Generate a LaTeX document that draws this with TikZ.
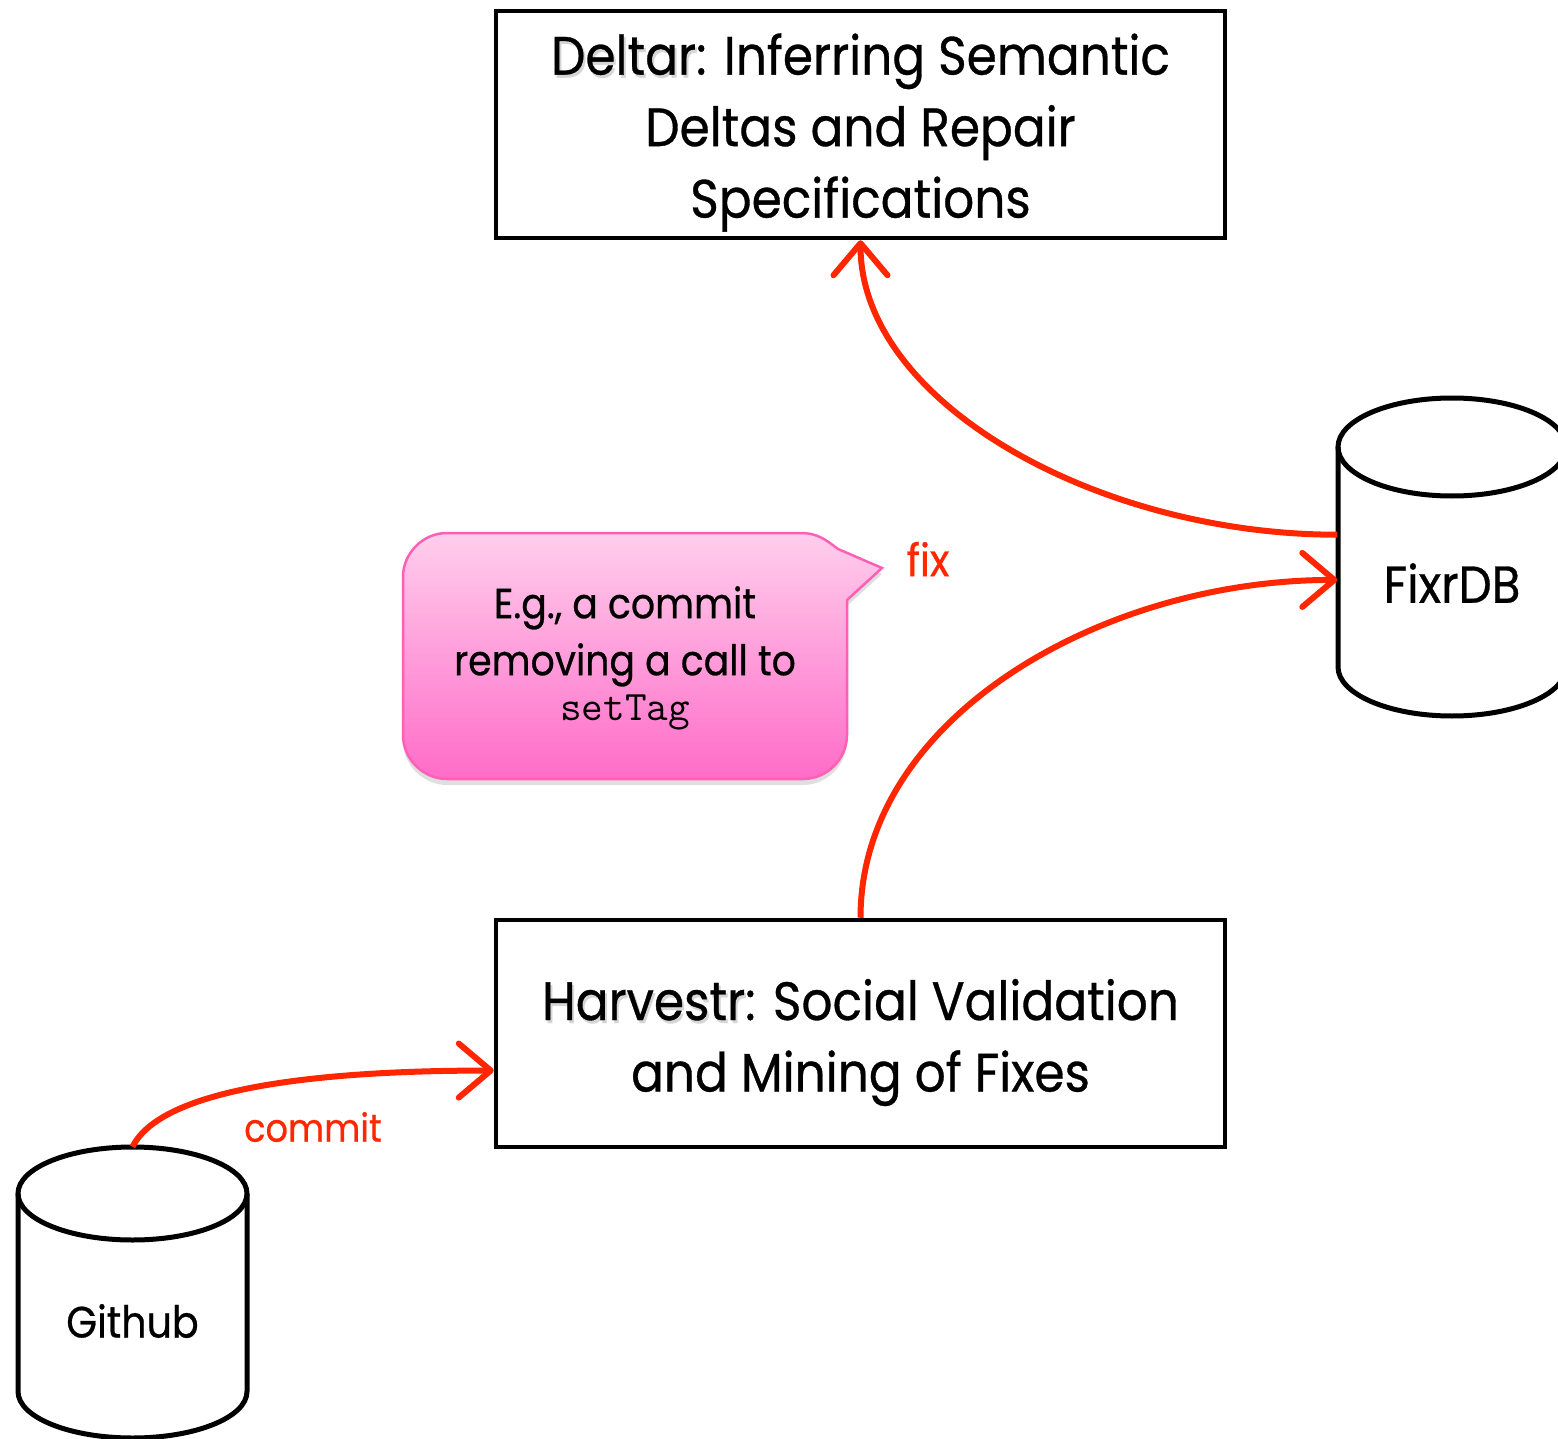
\documentclass[tikz,border=0pt]{standalone}
\usepackage{fontspec}
\setmainfont{Poppins}[FakeStretch=0.9, FakeBold=0.6]
\usetikzlibrary{arrows.meta,calc,shadows}
\definecolor{linkred}{RGB}{255,38,0}
\definecolor{pinktop}{RGB}{255,206,236}
\definecolor{pinkbot}{RGB}{255,108,200}
\definecolor{pinkedge}{RGB}{255,96,182}

% word with a soft grey drop shadow behind it
\newcommand{\shadowed}[1]{\makebox[0pt][l]{\raisebox{-3pt}{\hspace{2pt}\textcolor{black!16}{#1}}}#1}

\begin{document}
\begin{tikzpicture}[x=1pt,y=-1pt,
  titlebox/.style={draw, line width=4.5pt, minimum width=729pt, minimum height=227pt, inner sep=0pt},
  titletext/.style={align=center, inner sep=0pt, font=\fontsize{54}{71.5}\selectfont},
  store/.style={inner sep=0pt, minimum width=229pt},
  storeline/.style={line width=5pt},
  link/.style={draw=linkred, line width=6pt,
    -{Straight Barb[length=32pt,width=54pt,round]}},
  linklabel/.style={text=linkred, inner sep=0pt},
  storetext/.style={inner sep=0pt},
]
\useasboundingbox (0,0) rectangle (1558,1439);

% the two tools
\node[titlebox] (deltar) at (860.5,124.5) {};
\node[titletext] (deltartext) at (860.5,132.5)
  {\shadowed{Deltar}: Inferring Semantic\\Deltas and Repair\\Specifications};
\node[titlebox] (harvestr) at (860.5,1033.5) {};
\node[titletext] (harvestrtext) at (860.5,1042.5)
  {\shadowed{Harvestr}: Social Validation\\and Mining of Fixes};

% FixrDB store
\node[store, minimum height=318pt] (fixr) at (1452,557) {};
\draw[storeline] (1452,447) ellipse [x radius=114, y radius=49];
\draw[storeline] (1338,447) -- (1338,667)
  arc[start angle=180, end angle=0, x radius=114, y radius=49] -- (1566,447);
\node[storetext, font=\fontsize{52}{60}\selectfont] (fixrtext) at (1452,583) {FixrDB};

% Github store
\node[store, minimum height=291pt] (github) at (132.5,1292.5) {};
\draw[storeline] (132.5,1193.5) ellipse [x radius=114.5, y radius=46.5];
\draw[storeline] (18,1193.5) -- (18,1391.5)
  arc[start angle=180, end angle=0, x radius=114.5, y radius=46.5] -- (247,1193.5);
\node[storetext, font=\fontsize{44}{52}\selectfont] (githubtext) at (132.5,1321) {Github};

% speech bubble
\path[draw=pinkedge, line width=2.5pt, top color=pinktop, bottom color=pinkbot,
      drop shadow={opacity=0.25, shadow xshift=0pt, shadow yshift=-6pt}]
  (447,533) -- (800,533) .. controls (818,533) and (826,540) .. (838,549)
  -- (882,568) -- (847,600) -- (847,735)
  .. controls (847,759) and (827,779) .. (803,779) -- (447,779)
  .. controls (423,779) and (403,759) .. (403,735) -- (403,577)
  .. controls (403,553) and (423,533) .. (447,533) -- cycle;
\node[align=center, inner sep=0pt, font=\fontsize{42}{57}\selectfont] (note) at (625,658)
  {E.g., a commit\\removing a call to\\[-12pt]{\ttfamily\fontsize{42}{44}\selectfont setTag}};

% connectors
\draw[link] (github.north) .. controls +(30,-60) and +(-170,0) ..
  ($(harvestr.north west)!0.66!(harvestr.south west)$);
\draw[link] (harvestr.north) .. controls +(0,-200) and +(-235,0) ..
  ($(fixr.north west)!0.572!(fixr.south west)$);
\draw[link] ($(fixr.north west)!0.43!(fixr.south west)$) .. controls +(-240,0) and +(0,162) ..
  (deltar.south);

\node[linklabel, font=\fontsize{39}{46}\selectfont] (commitlbl) at (313,1127) {commit};
\node[linklabel, font=\fontsize{45}{52}\selectfont] (fixlbl) at (928,559) {fix};
\end{tikzpicture}
\end{document}
